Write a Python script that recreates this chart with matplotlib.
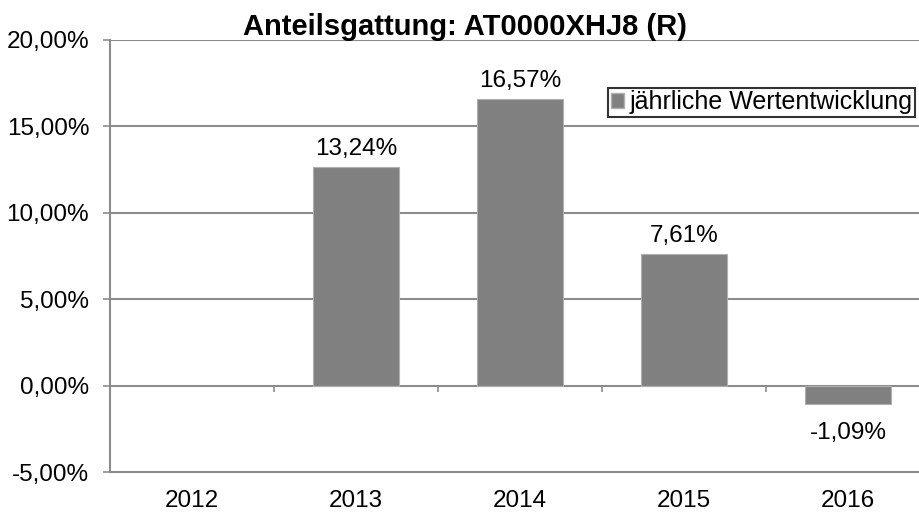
import numpy as np
import matplotlib
matplotlib.use('Agg')
import matplotlib.pyplot as plt
from matplotlib.patches import Patch

plt.rcParams['font.family'] = ['Liberation Sans', 'DejaVu Sans']

years = ['2012', '2013', '2014', '2015', '2016']
# bar heights as drawn (2013 bar sits lower than its label says)
values = [np.nan, 12.67, 16.57, 7.61, -1.09]
labels = ['', '13,24%', '16,57%', '7,61%', '-1,09%']
yticks = [-5, 0, 5, 10, 15, 20]
ytick_labels = ['-5,00%', '0,00%', '5,00%', '10,00%', '15,00%', '20,00%']

grey = '#808080'
line = '#8c8c8c'
fs = 17.5

fig = plt.figure(figsize=(9.2, 5.13), dpi=100)
ax = fig.add_axes([110 / 920, 1 - 472 / 513, 820 / 920, 432 / 513])

x = np.arange(len(years))
ax.bar(x, values, width=0.52, color=grey, edgecolor='#b0b0b0', linewidth=0.8, zorder=3)

for xi, v, lab in zip(x, values, labels):
    if not lab:
        continue
    if v >= 0:
        ax.annotate(lab, (xi, v), xytext=(0, 5), textcoords='offset points',
                    ha='center', va='bottom', fontsize=fs)
    else:
        ax.annotate(lab, (xi, v), xytext=(0, -13), textcoords='offset points',
                    ha='center', va='top', fontsize=fs)

ax.set_xlim(-0.5, len(years) - 0.5)
ax.set_ylim(-5, 20)
ax.set_yticks(yticks, ytick_labels)
ax.set_xticks(x, years)
ax.tick_params(axis='y', length=5, width=1.2, color=line, pad=10, labelsize=fs)
ax.tick_params(axis='x', length=0, pad=13, labelsize=fs)

for yv in yticks[1:]:
    ax.axhline(yv, color=line, linewidth=1.5, zorder=1)

# category separator ticks on the zero line
ax.vlines(x[:-1] + 0.5, 0, -0.35, color=line, linewidth=1.2, zorder=2)

for s in ['top', 'right']:
    ax.spines[s].set_visible(False)
ax.spines['left'].set_color(line)
ax.spines['left'].set_linewidth(1.5)
ax.spines['bottom'].set_color(line)
ax.spines['bottom'].set_linewidth(1.5)

fig.text(465 / 920, 1 - 27 / 513, 'Anteilsgattung: AT0000XHJ8 (R)', ha='center', va='center',
         fontsize=21, fontweight='bold')

handle = Patch(facecolor=grey, edgecolor='#b0b0b0')
leg = fig.legend([handle], ['jährliche Wertentwicklung'], loc='upper right',
                 bbox_to_anchor=(915 / 920, 1 - 88 / 513), fontsize=18, frameon=True,
                 fancybox=False, edgecolor='black', borderpad=0.1, handlelength=0.55,
                 handleheight=0.55, handletextpad=0.2, borderaxespad=0)
leg.get_frame().set_linewidth(1.5)

fig.savefig('out.png', dpi=100)
